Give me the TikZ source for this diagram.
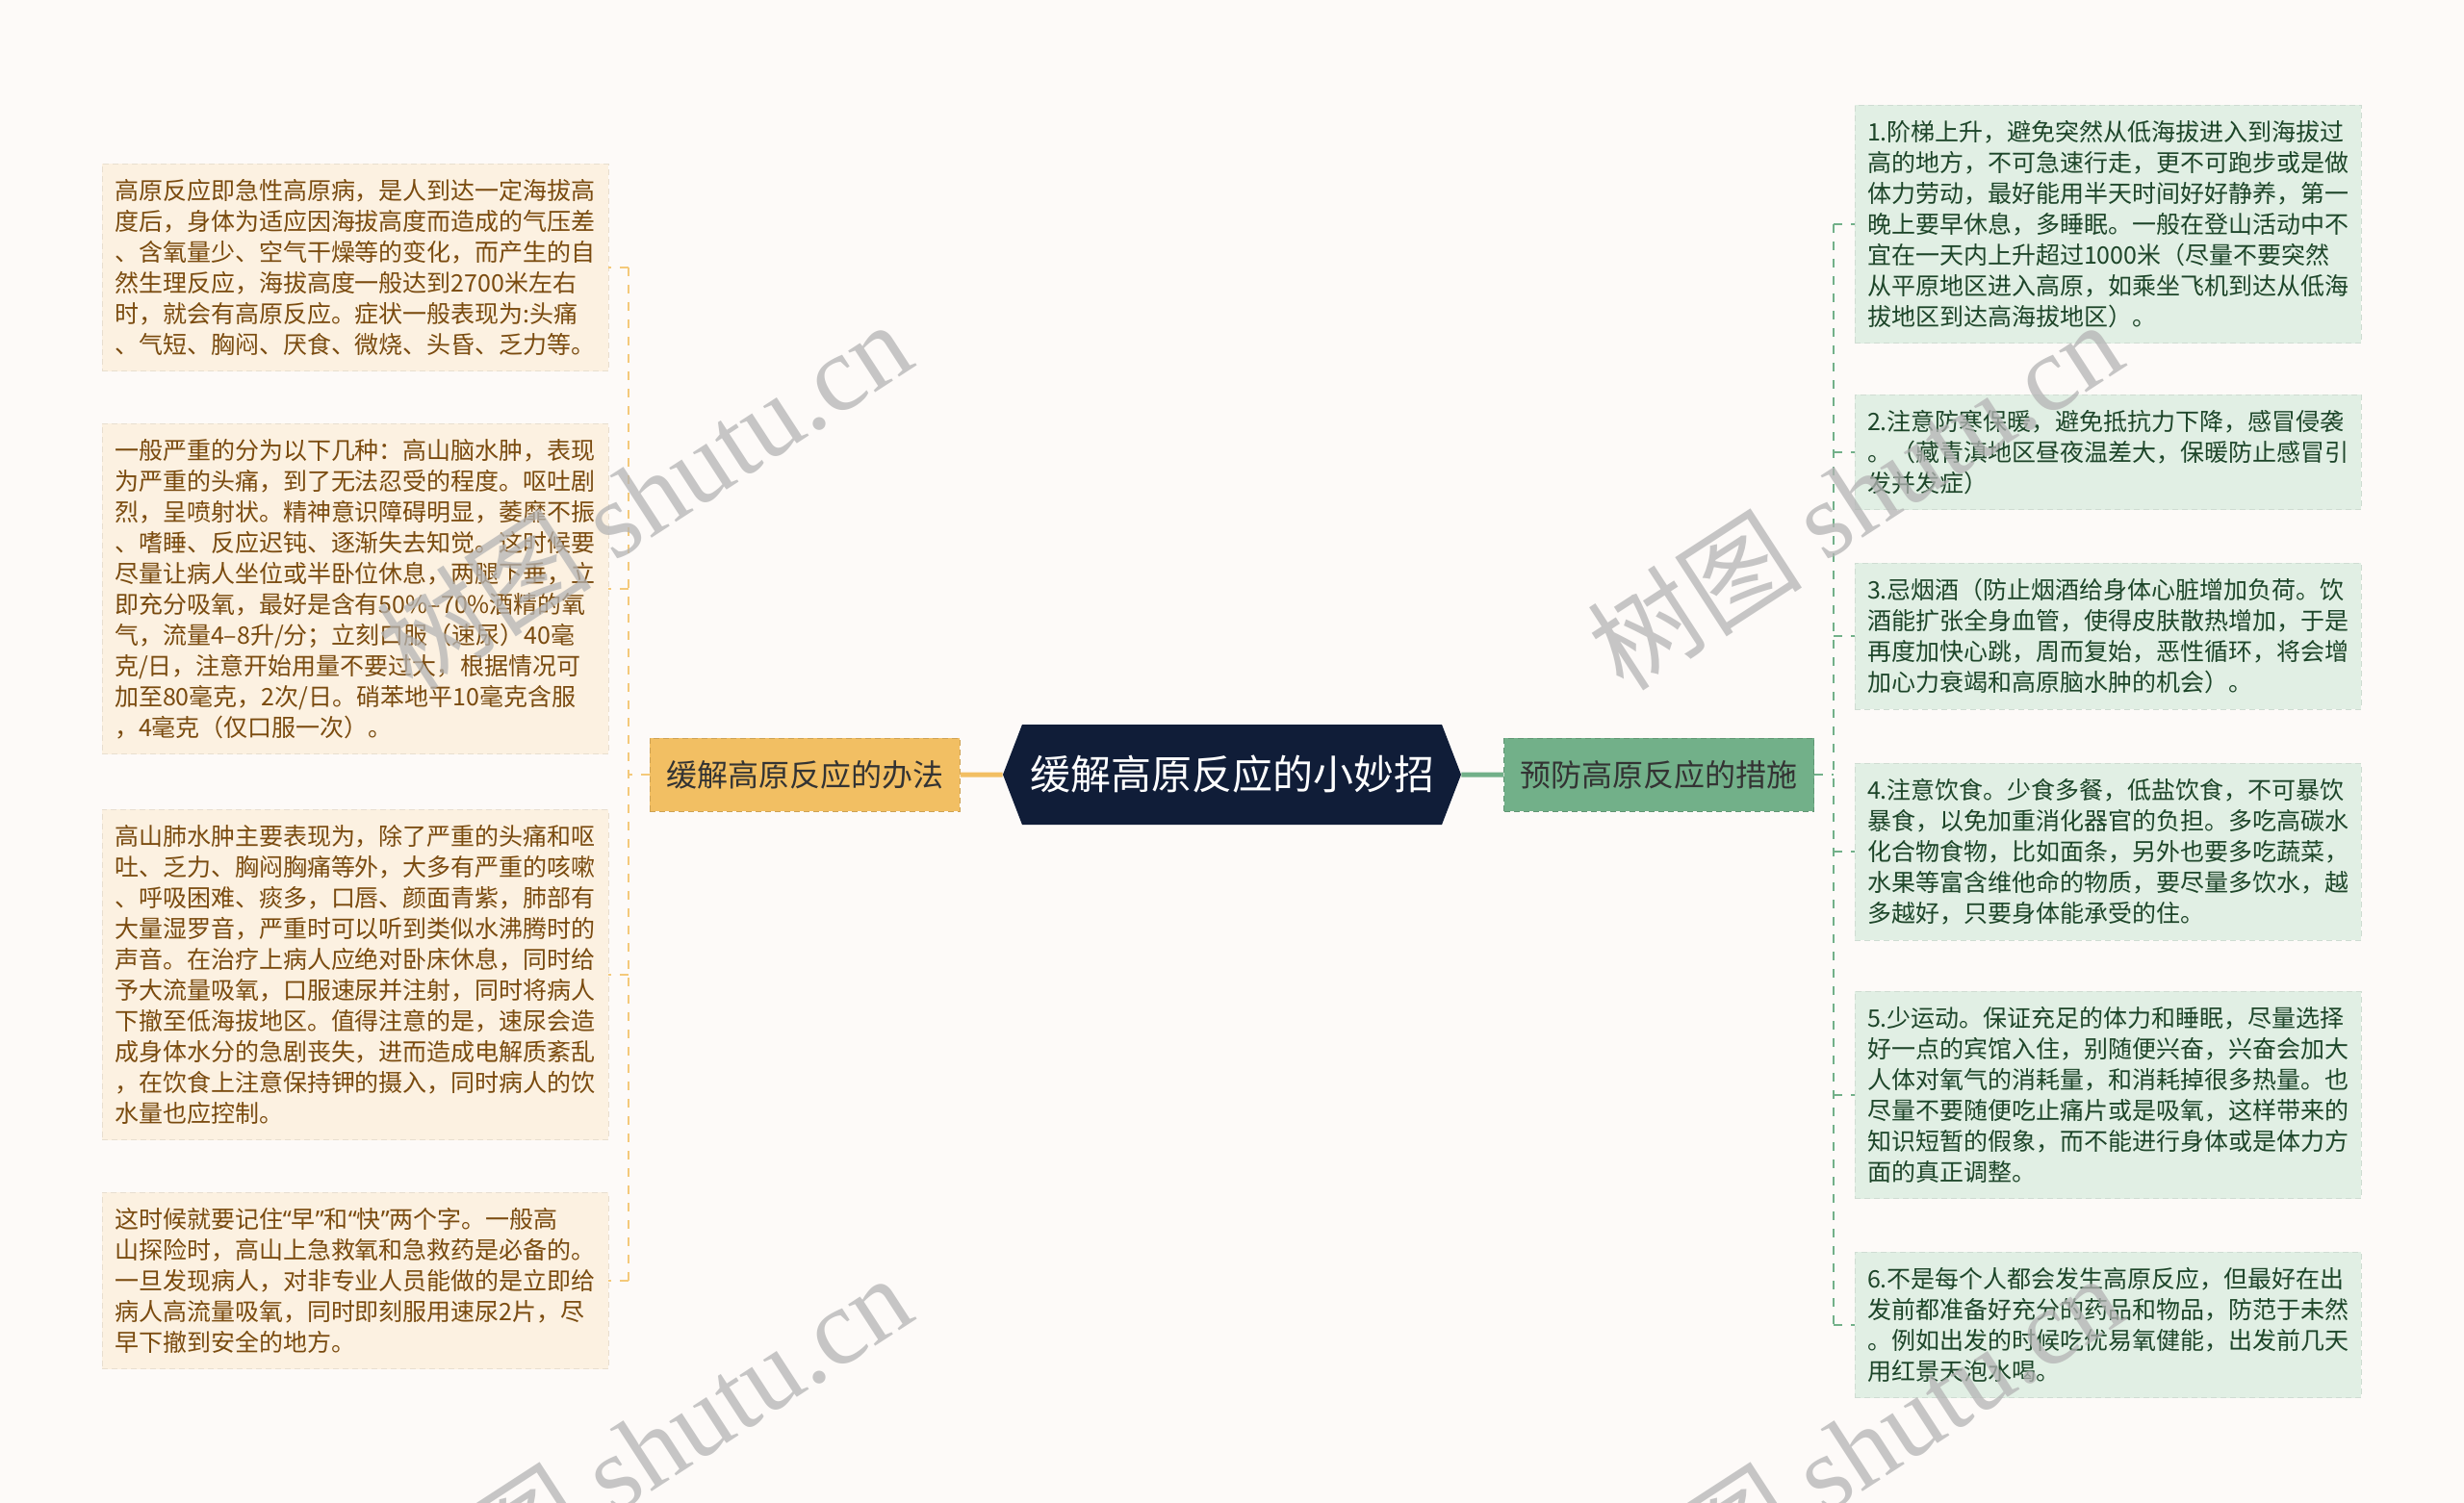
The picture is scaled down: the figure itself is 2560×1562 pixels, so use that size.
\documentclass[tikz,border=0pt]{standalone}
\usepackage{fontspec}
\setmainfont{Noto Sans CJK SC}
\newfontfamily\wmfont{Liberation Serif}
\newfontfamily\qfont{Noto Sans}
\usetikzlibrary{shapes.symbols, positioning}
\definecolor{bgc}{HTML}{FDFAF8}
\definecolor{rootc}{HTML}{101D38}
\definecolor{lbrc}{HTML}{F2BF63}
\definecolor{rbrc}{HTML}{72B089}
\definecolor{lleafc}{HTML}{FCF1E1}
\definecolor{rleafc}{HTML}{E1EFE4}
\definecolor{ltxtc}{HTML}{7A4B0F}
\definecolor{rtxtc}{HTML}{1D4529}
\definecolor{wmc}{HTML}{B4B4B4}

\begin{document}
\begin{tikzpicture}[x=0.5pt, y=-0.5pt,
    root/.style={signal, signal to=west and east, signal pointer angle=138,
      fill=rootc, text=white, font=\fontsize{21}{25}\selectfont,
      minimum width=238pt, minimum height=52pt, inner xsep=2pt},
    branch/.style={fill=#1, draw=#1!85!black, densely dashed, line width=0.4pt,
      text=black!80, font=\fontsize{16}{20}\selectfont,
      minimum width=161pt, minimum height=38pt},
    leaf/.style={fill=#1, draw=#1!92!black, densely dashed, line width=0.4pt,
      font=\fontsize{12.5}{16}\selectfont, text width=250pt, align=left,
      inner xsep=6.5pt, inner ysep=8pt},
    lleaf/.style={leaf=lleafc, text=ltxtc},
    rleaf/.style={leaf=rleafc, text=rtxtc},
    ldash/.style={draw=lbrc!85!white, line width=0.8pt, dash pattern=on 4.5pt off 4.5pt},
    rdash/.style={draw=rbrc, line width=0.8pt, dash pattern=on 4.5pt off 4.5pt},
    wm/.style={text=wmc, opacity=0.75, font=\fontsize{56}{56}\selectfont}]
  \clip (0,0) rectangle (2560,1562);
  \fill[bgc] (0,0) rectangle (2560,1562);

  \node[root]          (c_0) at (1280,805)   {缓解高原反应的小妙招};
  \node[branch=lbrc]   (b_l) [left=22pt of c_0]  {缓解高原反应的办法};
  \node[branch=rbrc]   (b_r) [right=22pt of c_0] {预防高原反应的措施};

  \node[lleaf] (l_1) at (369,278) {高原反应即急性高原病，是人到达一定海拔高\\度后，身体为适应因海拔高度而造成的气压差\\、含氧量少、空气干燥等的变化，而产生的自\\然生理反应，海拔高度一般达到2700米左右\\时，就会有高原反应。症状一般表现为:头痛\\、气短、胸闷、厌食、微烧、头昏、乏力等。};
  \node[lleaf] (l_2) at (369,612) {一般严重的分为以下几种：高山脑水肿，表现\\为严重的头痛，到了无法忍受的程度。呕吐剧\\烈，呈喷射状。精神意识障碍明显，萎靡不振\\、嗜睡、反应迟钝、逐渐失去知觉。这时候要\\尽量让病人坐位或半卧位休息，两腿下垂，立\\即充分吸氧，最好是含有50\%–70\%酒精的氧\\气，流量4–8升/分；立刻口服（速尿）40毫\\克/日，注意开始用量不要过大，根据情况可\\加至80毫克，2次/日。硝苯地平10毫克含服\\，4毫克（仅口服一次）。};
  \node[lleaf] (l_3) at (369,1013) {高山肺水肿主要表现为，除了严重的头痛和呕\\吐、乏力、胸闷胸痛等外，大多有严重的咳嗽\\、呼吸困难、痰多，口唇、颜面青紫，肺部有\\大量湿罗音，严重时可以听到类似水沸腾时的\\声音。在治疗上病人应绝对卧床休息，同时给\\予大流量吸氧，口服速尿并注射，同时将病人\\下撤至低海拔地区。值得注意的是，速尿会造\\成身体水分的急剧丧失，进而造成电解质紊乱\\，在饮食上注意保持钾的摄入，同时病人的饮\\水量也应控制。};
  \node[lleaf] (l_4) at (369,1331) {这时候就要记住{\qfont “}早{\qfont ”}和{\qfont “}快{\qfont ”}两个字。一般高\\山探险时，高山上急救氧和急救药是必备的。\\一旦发现病人，对非专业人员能做的是立即给\\病人高流量吸氧，同时即刻服用速尿2片，尽\\早下撤到安全的地方。};

  \node[rleaf] (r_1) at (2190,233) {1.阶梯上升，避免突然从低海拔进入到海拔过\\高的地方，不可急速行走，更不可跑步或是做\\体力劳动，最好能用半天时间好好静养，第一\\晚上要早休息，多睡眠。一般在登山活动中不\\宜在一天内上升超过1000米（尽量不要突然\\从平原地区进入高原，如乘坐飞机到达从低海\\拔地区到达高海拔地区）。};
  \node[rleaf] (r_2) at (2190,470) {2.注意防寒保暖，避免抵抗力下降，感冒侵袭\\。（藏青滇地区昼夜温差大，保暖防止感冒引\\发并发症）};
  \node[rleaf] (r_3) at (2190,661) {3.忌烟酒（防止烟酒给身体心脏增加负荷。饮\\酒能扩张全身血管，使得皮肤散热增加，于是\\再度加快心跳，周而复始，恶性循环，将会增\\加心力衰竭和高原脑水肿的机会）。};
  \node[rleaf] (r_4) at (2190,885) {4.注意饮食。少食多餐，低盐饮食，不可暴饮\\暴食，以免加重消化器官的负担。多吃高碳水\\化合物食物，比如面条，另外也要多吃蔬菜，\\水果等富含维他命的物质，要尽量多饮水，越\\多越好，只要身体能承受的住。};
  \node[rleaf] (r_5) at (2190,1138) {5.少运动。保证充足的体力和睡眠，尽量选择\\好一点的宾馆入住，别随便兴奋，兴奋会加大\\人体对氧气的消耗量，和消耗掉很多热量。也\\尽量不要随便吃止痛片或是吸氧，这样带来的\\知识短暂的假象，而不能进行身体或是体力方\\面的真正调整。};
  \node[rleaf] (r_6) at (2190,1377) {6.不是每个人都会发生高原反应，但最好在出\\发前都准备好充分的药品和物品，防范于未然\\。例如出发的时候吃优易氧健能，出发前几天\\用红景天泡水喝。};

  \coordinate (j_l) at (653,805);
  \coordinate (j_r) at (1905,805);

  \draw[lbrc, line width=2.5pt] (c_0) -- (b_l);
  \draw[rbrc, line width=2.5pt] (c_0) -- (b_r);
  \draw[ldash] (b_l.west) -- (j_l);
  \draw[rdash] (b_r.east) -- (j_r);
  \draw[ldash] (j_l |- l_1.east) -- (j_l |- l_4.east);
  \draw[rdash] (j_r |- r_1.west) -- (j_r |- r_6.west);
  \foreach \i in {1,...,4}
    \draw[ldash] (j_l |- l_\i.east) -- (l_\i.east);
  \foreach \i in {1,...,6}
    \draw[rdash] (j_r |- r_\i.west) -- (r_\i.west);

  \node[wm, rotate=33] (w_1) at (669,514)  {树图 {\wmfont shutu.cn}};
  \node[wm, rotate=33] (w_2) at (1927,514) {树图 {\wmfont shutu.cn}};
  \node[wm, rotate=33] (w_3) at (669,1505) {树图 {\wmfont shutu.cn}};
  \node[wm, rotate=33] (w_4) at (1927,1505) {树图 {\wmfont shutu.cn}};
\end{tikzpicture}
\end{document}
